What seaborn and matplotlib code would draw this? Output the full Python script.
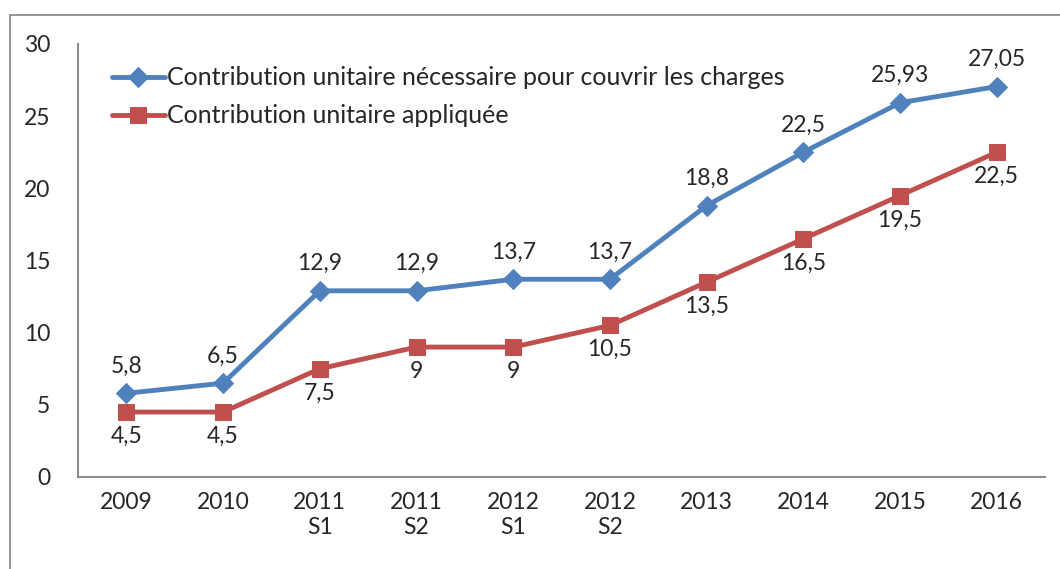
"""Contribution unitaire: nécessaire vs appliquée."""

import matplotlib
matplotlib.use("Agg")
import matplotlib.pyplot as plt
import seaborn as sns
from matplotlib.patches import Rectangle

periods = ["2009", "2010", "2011\nS1", "2011\nS2", "2012\nS1", "2012\nS2",
           "2013", "2014", "2015", "2016"]
necessaire = [5.8, 6.5, 12.9, 12.9, 13.7, 13.7, 18.8, 22.5, 25.93, 27.05]
appliquee = [4.5, 4.5, 7.5, 9, 9, 10.5, 13.5, 16.5, 19.5, 22.5]
label_necessaire = "Contribution unitaire nécessaire pour couvrir les charges"
label_appliquee = "Contribution unitaire appliquée"

BLUE = "#4F81BD"
RED = "#C0504D"
GREY = "#8C8C8C"
FS = 16.5


def fmt(v):
    s = f"{v:.2f}".rstrip("0").rstrip(".")
    return s.replace(".", ",")


def main():
    sns.set_style("white")
    plt.rcParams["font.family"] = ["Lato", "DejaVu Sans"]
    fig = plt.figure(figsize=(10.6, 5.69), dpi=100)
    ax = fig.add_axes([0.0736, 0.1617, 0.9124, 0.761])

    # outer frame of the embedded chart
    fig.patches.append(Rectangle((10 / 1060, -0.1), 1.2, 0.1 + 1 - 15 / 569,
                                 transform=fig.transFigure, fill=False,
                                 edgecolor=GREY, lw=1.3))

    xs = list(range(len(periods)))
    sns.lineplot(x=xs, y=necessaire, ax=ax, color=BLUE, lw=3.5, marker="D",
                 markersize=10, markeredgecolor=BLUE, label=label_necessaire)
    sns.lineplot(x=xs, y=appliquee, ax=ax, color=RED, lw=3.5, marker="s",
                 markersize=11, markeredgecolor=RED, label=label_appliquee)

    for x, v in zip(xs, necessaire):
        ax.annotate(fmt(v), (x, v), xytext=(0, 12), textcoords="offset points",
                    ha="center", va="bottom", fontsize=FS)
    for x, v in zip(xs, appliquee):
        ax.annotate(fmt(v), (x, v), xytext=(0, -10), textcoords="offset points",
                    ha="center", va="top", fontsize=FS)

    ax.set_xlim(-0.5, len(periods) - 0.5)
    ax.set_ylim(0, 30)
    ax.set_yticks(range(0, 31, 5))
    ax.set_xticks(xs)
    ax.set_xticklabels(periods, fontsize=FS)
    ax.set_xticks([i - 0.5 for i in range(len(periods) + 1)], minor=True)
    ax.tick_params(axis="x", which="major", length=0, pad=11)
    ax.tick_params(axis="x", which="minor", length=6, width=1.5,
                   color=GREY, direction="out")
    ax.tick_params(axis="y", length=6, width=1.5, color=GREY,
                   direction="out", labelsize=FS, pad=14)
    for side in ["top", "right"]:
        ax.spines[side].set_visible(False)
    for side in ["left", "bottom"]:
        ax.spines[side].set_color(GREY)
        ax.spines[side].set_linewidth(1.5)

    ax.legend(loc="upper left", bbox_to_anchor=(0.012, 1.0), frameon=False,
              fontsize=18, handlelength=2.1, handletextpad=0.1,
              labelspacing=0.6)

    plt.savefig("out.png", dpi=100)


if __name__ == "__main__":
    main()
